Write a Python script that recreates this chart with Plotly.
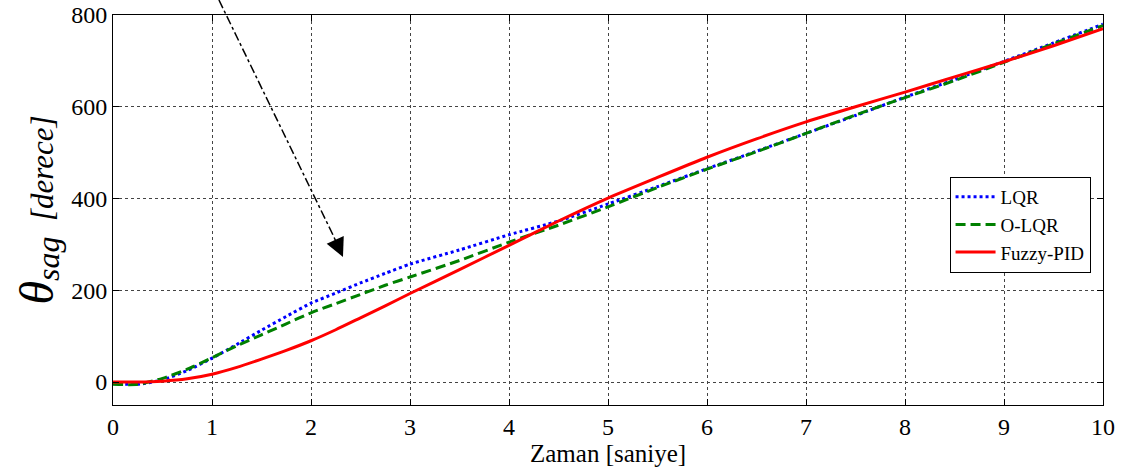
import plotly.graph_objects as go

t = [0, 0.25, 0.5, 0.75, 1, 1.25, 1.5, 1.75, 2, 2.25, 2.5, 2.75, 3, 3.5, 4, 4.5, 5, 5.5, 6, 6.5, 7, 7.5, 8, 8.5, 9, 9.5, 10]
lqr = [-3, -5, 5, 25, 52, 82, 113, 143, 172, 194, 216, 237, 257, 288, 321, 351, 388, 426, 465, 503, 542, 581, 621, 659, 699, 739, 780]
olqr = [-5, -5, 8, 28, 53, 79, 103, 127, 151, 171, 191, 211, 229, 265, 305, 342, 382, 424, 464, 502, 542, 582, 620, 657, 697, 737, 777]
fuzzy = [0, 0, 2, 7, 17, 32, 50, 69, 90, 114, 140, 166, 193, 245, 298, 351, 401, 446, 490, 530, 567, 600, 632, 665, 698, 733, 770]

x_ticks = [0, 1, 2, 3, 4, 5, 6, 7, 8, 9, 10]
y_ticks = [0, 200, 400, 600, 800]

FONT = "Liberation Serif"

fig = go.Figure()
fig.add_trace(go.Scatter(x=t, y=lqr, mode="lines", name="LQR",
                         line=dict(color="#0000ff", width=3, dash="3px,3px", shape="spline", smoothing=0.6)))
fig.add_trace(go.Scatter(x=t, y=olqr, mode="lines", name="O-LQR",
                         line=dict(color="#008000", width=3, dash="10px,5px", shape="spline", smoothing=0.6)))
fig.add_trace(go.Scatter(x=t, y=fuzzy, mode="lines", name="Fuzzy-PID",
                         line=dict(color="#ff0000", width=3, shape="spline", smoothing=0.6)))

axis_common = dict(
    showline=True, linecolor="black", linewidth=1, mirror="ticks",
    ticks="inside", ticklen=6, tickcolor="black",
    showgrid=True, gridcolor="#444444", griddash="dot", gridwidth=1,
    zeroline=False, automargin=False, ticklabeloverflow="allow",
    tickfont=dict(family=FONT, size=24, color="black"),
)

fig.update_xaxes(range=[0, 10], tickvals=x_ticks, **axis_common)
fig.update_yaxes(range=[-50, 800], tickvals=y_ticks, **axis_common,
                 title=dict(text="<span style='font-size:48px'><i>θ</i></span><sub><span style='font-size:32px'><i>sag</i></span></sub>  <i>[derece]</i>",
                            font=dict(family=FONT, size=31, color="black"), standoff=8))

# x-axis title
fig.add_annotation(x=0.5, y=-0.125, xref="paper", yref="paper", xanchor="center", yanchor="middle",
                   text="Zaman [saniye]", showarrow=False,
                   font=dict(family=FONT, size=25, color="black"))

# dash-dot arrow line
fig.add_shape(type="line", xref="paper", yref="paper",
              x0=0.107, y0=1.0385, x1=0.2222, y1=0.436,
              line=dict(color="black", width=1.5, dash="dashdot"))
fig.add_annotation(x=2.323, y=272.7, xref="x", yref="y", ax=-10, ay=-22,
                   text=" ", showarrow=True, arrowhead=2, arrowsize=2.5, arrowwidth=1.5,
                   arrowcolor="black", font=dict(size=2))

fig.update_layout(
    width=1128, height=467,
    margin=dict(l=113, r=25, t=15, b=62, autoexpand=False),
    plot_bgcolor="white", paper_bgcolor="white",
    font=dict(family=FONT, color="black"),
    legend=dict(x=0.845, y=0.585, xanchor="left", yanchor="top",
                bgcolor="white", bordercolor="black", borderwidth=1,
                font=dict(family=FONT, size=19, color="black"),
                tracegroupgap=0, itemwidth=40),
    showlegend=True,
)

fig.write_html("out.html", config={"displayModeBar": False},
               post_script="document.body.style.margin='0';document.body.style.overflow='hidden';")
